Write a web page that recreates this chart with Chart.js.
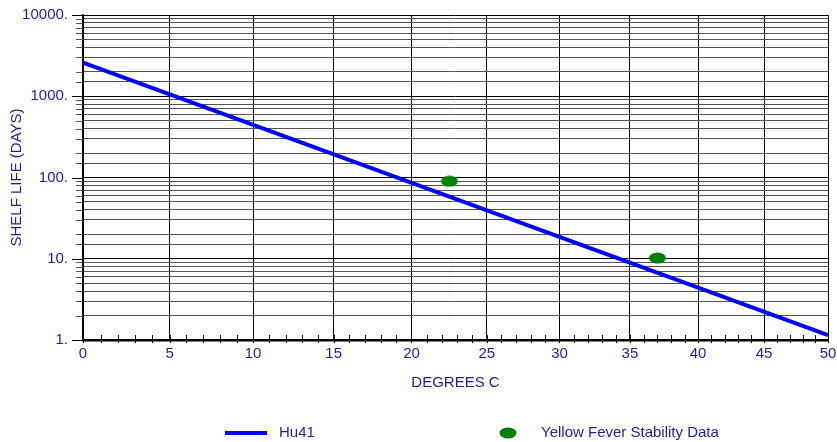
<!DOCTYPE html>
<html>
<head>
  <meta charset="UTF-8">
  <title>Shelf Life vs Temperature</title>
  <script src="https://cdn.jsdelivr.net/npm/chart.js"></script>
  <style>
    body { margin: 0; background: #fff; }
    #wrap { width: 837px; height: 442px; }
  </style>
</head>
<body>
<div id="wrap"><canvas id="shelfChart" width="837" height="442"></canvas></div>
<script>
  // Hu41 fitted line (straight on an Arrhenius plot, so the two end points are enough)
  const lineTemps = [0, 50];
  const lineDays = [2600, 1.15];

  // Yellow fever stability measurements
  const dataTemps = [22.5, 37];
  const dataDays = [90, 10.2];

  const degreeTicks = Array.from({ length: 51 }, (_, i) => i); // one mark per degree
  const xTicks = [0, 5, 10, 15, 20, 25, 30, 35, 40, 45, 50];
  const xTickLabels = ['0', '5', '10', '15', '20', '25', '30', '35', '40', '45', '50'];
  const yTicks = [1, 10, 100, 1000, 10000];
  const yTickLabels = ['1.', '10.', '100.', '1000.', '10000.'];

  // the x axis is reciprocal absolute temperature, labelled in degrees C
  const invT = t => 1000 / (t + 273.15);

  const navy = '#1f1f8f';
  Chart.defaults.font.family = '"Liberation Sans", Arial, sans-serif';
  Chart.defaults.font.size = 15;
  Chart.defaults.color = navy;

  // green ellipse used as the marker
  const ellipse = document.createElement('canvas');
  ellipse.width = 18;
  ellipse.height = 12;
  const ec = ellipse.getContext('2d');
  ec.fillStyle = '#008000';
  ec.beginPath();
  ec.ellipse(9, 6, 8.5, 5.5, 0, 0, Math.PI * 2);
  ec.fill();

  // minor tick marks + legend
  const extras = {
    id: 'extras',
    afterDraw(chart) {
      const { ctx, chartArea: a, scales: { x, y } } = chart;
      ctx.save();
      ctx.lineWidth = 1;
      ctx.strokeStyle = '#000';
      x.ticks.forEach(t => {
        const px = Math.round(x.getPixelForValue(t.value)) + 0.5;
        ctx.beginPath();
        ctx.moveTo(px, a.bottom - 5);
        ctx.lineTo(px, a.bottom + 3);
        ctx.stroke();
      });
      y.ticks.forEach(t => {
        const major = yTicks.includes(t.value);
        const py = Math.round(y.getPixelForValue(t.value)) + 0.5;
        ctx.strokeStyle = major ? '#000' : '#555';
        ctx.beginPath();
        ctx.moveTo(a.left - (major ? 11 : 7), py);
        ctx.lineTo(a.left, py);
        ctx.stroke();
      });

      // legend
      const ly = 433;
      const ds = chart.data.datasets;
      ctx.strokeStyle = '#0000ff';
      ctx.lineWidth = 4;
      ctx.beginPath();
      ctx.moveTo(225, ly);
      ctx.lineTo(267, ly);
      ctx.stroke();
      ctx.fillStyle = navy;
      ctx.font = '15px "Liberation Sans", Arial, sans-serif';
      ctx.textBaseline = 'middle';
      ctx.fillText(ds[1].label, 279, ly);
      ctx.drawImage(ellipse, 508 - 9, ly - 6);
      ctx.fillText(ds[0].label, 541, ly);
      ctx.restore();
    }
  };

  new Chart(document.getElementById('shelfChart'), {
    type: 'scatter',
    data: {
      datasets: [
        {
          label: 'Yellow Fever Stability Data',
          data: dataTemps.map((t, i) => ({ x: invT(t), y: dataDays[i] })),
          pointStyle: ellipse,
          pointRadius: 8,
          backgroundColor: '#008000',
          order: 1
        },
        {
          label: 'Hu41',
          data: lineTemps.map((t, i) => ({ x: invT(t), y: lineDays[i] })),
          showLine: true,
          borderColor: '#0000ff',
          borderWidth: 4,
          pointRadius: 0,
          fill: false,
          order: 2
        }
      ]
    },
    options: {
      responsive: false,
      animation: false,
      layout: { padding: { top: 15, right: 8, left: 0, bottom: 0 } },
      plugins: {
        legend: { display: false },
        tooltip: { enabled: false }
      },
      scales: {
        x: {
          type: 'linear',
          reverse: true,
          min: invT(50),
          max: invT(0),
          afterBuildTicks: s => { s.ticks = degreeTicks.map(t => ({ value: invT(t) })); },
          afterFit: s => { s.height = 102; s.paddingLeft = 0; s.paddingRight = 0; },
          ticks: {
            autoSkip: false,
            maxRotation: 0,
            padding: 5,
            callback: (v, i) => { const k = xTicks.indexOf(degreeTicks[i]); return k >= 0 ? xTickLabels[k] : ''; }
          },
          grid: {
            drawTicks: false,
            color: c => xTicks.includes(degreeTicks[c.index]) ? '#000' : 'rgba(0,0,0,0)'
          },
          border: { color: '#000', width: 2.5 },
          title: { display: true, text: 'DEGREES C', color: navy, padding: { top: 0, bottom: 50 } }
        },
        y: {
          type: 'logarithmic',
          min: 1,
          max: 10000,
          afterFit: s => { s.width = 83; s.paddingTop = 0; s.paddingBottom = 0; },
          ticks: {
            autoSkip: false,
            padding: 15,
            callback: v => { const i = yTicks.indexOf(v); return i >= 0 ? yTickLabels[i] : ''; }
          },
          grid: {
            drawTicks: false,
            color: c => (c.tick && yTicks.includes(c.tick.value)) ? '#000' : '#555'
          },
          border: { color: '#000', width: 1.5 },
          title: { display: true, text: 'SHELF LIFE (DAYS)', color: navy, padding: { top: 8, bottom: 0 } }
        }
      }
    },
    plugins: [extras]
  });
</script>
</body>
</html>
